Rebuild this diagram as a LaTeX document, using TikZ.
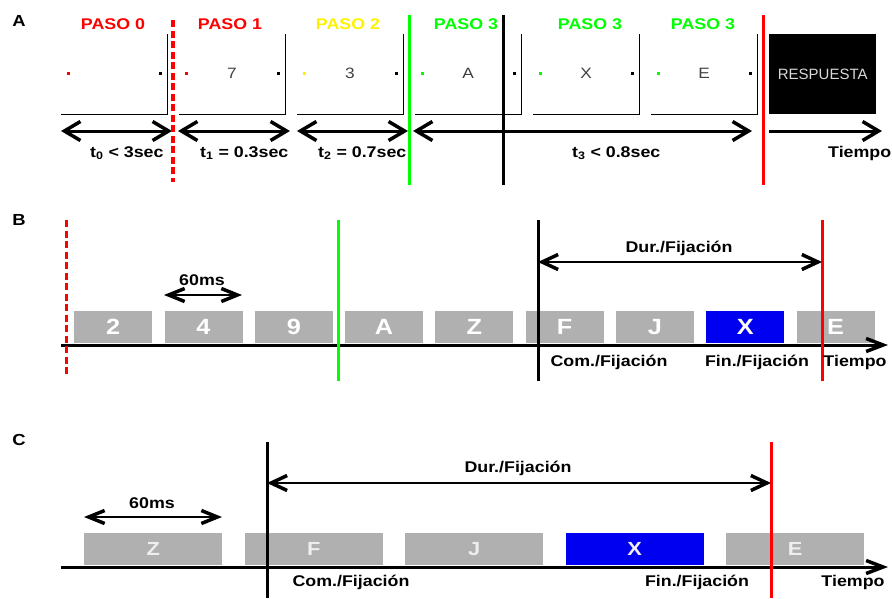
\documentclass[tikz,border=0pt]{standalone}
\usepackage{fontspec}
\setmainfont{Liberation Sans}[FakeStretch=1.15]
\newfontfamily\plainfont{Liberation Sans}
\usetikzlibrary{arrows.meta}
\definecolor{boxgray}{HTML}{B0B0B0}
\definecolor{fixblue}{HTML}{0000F0}
\definecolor{scrtext}{HTML}{404040}
\definecolor{resptext}{HTML}{D8D8D8}
\definecolor{lightlet}{HTML}{EEEEEE}

\begin{document}
\begin{tikzpicture}[x=1pt,y=-1pt,
    lab/.style={inner sep=0pt,font=\bfseries\fontsize{15.5}{17}\selectfont},
    panel/.style={inner sep=0pt,font=\bfseries\fontsize{16}{18}\selectfont},
    scr/.style={inner sep=0pt,text=scrtext,font=\fontsize{15}{17}\selectfont},
    bbox/.style={inner sep=0pt,anchor=north west,minimum height=32pt,text=white,
        font=\bfseries\fontsize{22}{24}\selectfont},
    cbox/.style={inner sep=0pt,anchor=north west,minimum height=32pt,minimum width=138pt,
        text=lightlet,font=\bfseries\fontsize{19}{21}\selectfont},
    big/.style={line width=3pt,{Straight Barb[length=16pt,width=19pt,line width=3.5pt]}-{Straight Barb[length=16pt,width=19pt,line width=3.5pt]}},
    one/.style={line width=3pt,-{Straight Barb[length=16pt,width=19pt,line width=3.5pt]}},
    dur/.style={line width=2.5pt,{Straight Barb[length=16pt,width=15pt,line width=3.5pt]}-{Straight Barb[length=16pt,width=15pt,line width=3.5pt]}},
    ms/.style={line width=2pt,{Straight Barb[length=16pt,width=13pt,line width=3.5pt]}-{Straight Barb[length=16pt,width=13pt,line width=3.5pt]}},
    axis/.style={line width=3pt,-{Straight Barb[length=17pt,width=13pt,line width=3.5pt]}},
    vline/.style={line width=3pt}
  ]
  \useasboundingbox (0,0) rectangle (892,598);

  % A
  \node[panel] (pA) at (19,21) {A};
  \foreach \x/\c/\t [count=\i] in {61/red/,179/red/7,297/yellow/3,415/green/A,533/green/X,651/green/E} {
    \draw[line width=1pt] (\x,114) -- ++(106,0) -- ++(0,-80);
    \fill[\c] (\x+5.5,71.5) rectangle ++(3,3);
    \fill (\x+97.5,71.5) rectangle ++(3,3);
    \node[scr] (s\i) at (\x+53,73) {\t};
  }
  \foreach \x/\c/\t [count=\i] in {113/red/0,230/red/1,348/yellow/2,466/green/3,590/green/3,703/green/3}
    \node[lab,text=\c] (paso\i) at (\x,24) {PASO \t};
  \node[fill=black,inner sep=0pt,anchor=north west,minimum width=107pt,minimum height=80pt,
    text=resptext,font=\plainfont\fontsize{15}{17}\selectfont] (resp) at (769,34) {RESPUESTA};

  \coordinate (a0l) at (61,131);  \coordinate (a0r) at (172,131);
  \coordinate (a1l) at (178,131); \coordinate (a1r) at (290,131);
  \coordinate (a2l) at (297,131); \coordinate (a2r) at (408,131);
  \coordinate (a3l) at (413,131); \coordinate (a3r) at (752,131);
  \coordinate (a4l) at (769,131); \coordinate (a4r) at (882,131);
  \draw[big] (a0l) -- (a0r);
  \draw[big] (a1l) -- (a1r);
  \draw[big] (a2l) -- (a2r);
  \draw[big] (a3l) -- (a3r);
  \draw[one] (a4l) -- (a4r);

  \node[lab,anchor=west] (t0) at (90,153) {t\textsubscript{0} < 3sec};
  \node[lab,anchor=west] (t1) at (200,153) {t\textsubscript{1} = 0.3sec};
  \node[lab,anchor=west] (t2) at (318,153) {t\textsubscript{2} = 0.7sec};
  \node[lab,anchor=west] (t3) at (572,153) {t\textsubscript{3} < 0.8sec};
  \node[lab,anchor=west] (tA) at (828,153) {Tiempo};

  \draw[vline,red,line width=3.5pt,dash pattern=on 7pt off 3.5pt] (173,20) -- (173,182);
  \draw[vline,green] (409,15) -- (409,185);
  \draw[vline] (503,15) -- (503,185);
  \draw[vline,red] (763,15) -- (763,185);

  % B
  \node[panel] (pB) at (19,220) {B};
  \foreach \t/\f [count=\i from 0] in {2/boxgray,4/boxgray,9/boxgray,A/boxgray,Z/boxgray,F/boxgray,J/boxgray,X/fixblue,E/boxgray}
    \node[bbox,fill=\f,minimum width=78pt] (b\i) at (74+90.3*\i,311) {\t};
  \coordinate (bx0) at (61,345); \coordinate (bx1) at (888,345);
  \draw[axis] (bx0) -- (bx1);
  \coordinate (msBl) at (164,295); \coordinate (msBr) at (242,295);
  \draw[ms] (msBl) -- (msBr);
  \node[lab] (msB) at (202,280) {60ms};

  \draw[vline,red,dash pattern=on 7pt off 3.5pt] (66,220) -- (66,377);
  \draw[vline,green] (338,220) -- (338,381);
  \draw[vline] (538,220) -- (538,381);
  \draw[vline,red] (822,220) -- (822,381);
  \coordinate (comB) at (538,262); \coordinate (finB) at (822,262);
  \draw[dur] (comB) -- (finB);
  \node[lab] (durB) at (679,248) {Dur./Fijación};
  \node[lab] (cB) at (609,362) {Com./Fijación};
  \node[lab] (fB) at (757,362) {Fin./Fijación};
  \node[lab] (tB) at (855,362) {Tiempo};

  % C
  \node[panel] (pC) at (19,440) {C};
  \foreach \t/\f [count=\i from 0] in {Z/boxgray,F/boxgray,J/boxgray,X/fixblue,E/boxgray}
    \node[cbox,fill=\f] (c\i) at (84+160.5*\i,533) {\t};
  \coordinate (cx0) at (61,567); \coordinate (cx1) at (888,567);
  \draw[axis] (cx0) -- (cx1);
  \coordinate (msCl) at (84,517); \coordinate (msCr) at (222,517);
  \draw[ms,line width=2.5pt] (msCl) -- (msCr);
  \node[lab] (msC) at (152,503) {60ms};

  \draw[vline] (267,442) -- (267,598);
  \draw[vline,red] (771,442) -- (771,598);
  \coordinate (comC) at (267,483); \coordinate (finC) at (771,483);
  \draw[dur] (comC) -- (finC);
  \node[lab] (durC) at (518,468) {Dur./Fijación};
  \node[lab] (cC) at (351,582) {Com./Fijación};
  \node[lab] (fC) at (697,582) {Fin./Fijación};
  \node[lab] (tC) at (853,582) {Tiempo};
\end{tikzpicture}
\end{document}
